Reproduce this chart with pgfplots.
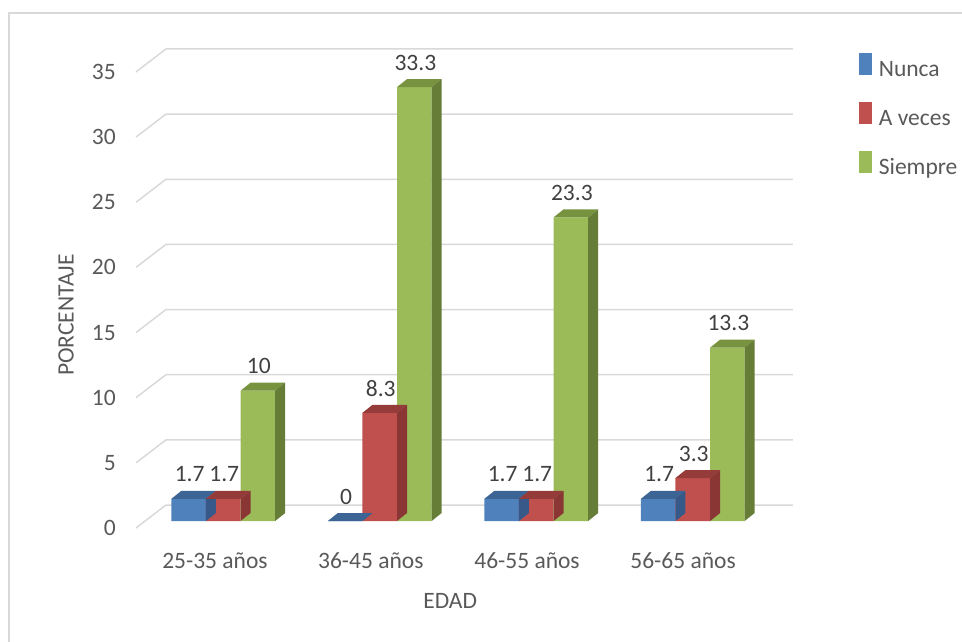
\documentclass[border=0pt]{standalone}
\usepackage{pgfplots}
\pgfplotsset{compat=1.18}
\usepackage{pgfplotstable}
\usepackage{fontspec}
\setmainfont{Carlito}

% series colours: front, top and side faces
\definecolor{nuncaF}{HTML}{4F81BD}
\definecolor{nuncaT}{HTML}{3C6595}
\definecolor{nuncaS}{HTML}{36598A}
\definecolor{vecesF}{HTML}{C0504D}
\definecolor{vecesT}{HTML}{953B39}
\definecolor{vecesS}{HTML}{8A3634}
\definecolor{siempreF}{HTML}{9BBB59}
\definecolor{siempreT}{HTML}{77933F}
\definecolor{siempreS}{HTML}{657D36}
\definecolor{gridcol}{HTML}{D9D9D9}
\definecolor{axgray}{HTML}{595959}
\definecolor{labgray}{HTML}{404040}

\newcommand\chartfont{\fontsize{23.5}{28}\selectfont}

% top and side faces of a column, drawn at the top centre of its front face
% (\barv holds the column value; one value unit is 13.03pt)
\newcommand\declarecube[3]{%
  \pgfdeclareplotmark{#1}{%
    \pgfmathfloatparsenumber{\barv}%
    \pgfmathfloattofixed{\pgfmathresult}%
    \pgfmathsetlengthmacro\barh{\pgfmathresult*13.03pt}%
    \pgfpathmoveto{\pgfpoint{-17.3pt}{0pt}}%
    \pgfpathlineto{\pgfpoint{17.3pt}{0pt}}%
    \pgfpathlineto{\pgfpoint{27.3pt}{8pt}}%
    \pgfpathlineto{\pgfpoint{-7.3pt}{8pt}}%
    \pgfpathclose
    \pgfsetfillcolor{#2}\pgfusepath{fill}%
    \pgfpathmoveto{\pgfpoint{17.3pt}{0pt}}%
    \pgfpathlineto{\pgfpoint{27.3pt}{8pt}}%
    \pgfpathlineto{\pgfpoint{27.3pt}{8pt-\barh}}%
    \pgfpathlineto{\pgfpoint{17.3pt}{-\barh}}%
    \pgfpathclose
    \pgfsetfillcolor{#3}\pgfusepath{fill}%
  }}
\declarecube{cubeN}{nuncaT}{nuncaS}
\declarecube{cubeA}{vecesT}{vecesS}
\declarecube{cubeS}{siempreT}{siempreS}

% legend key: a square inside a box as tall as the entry text
\newcommand\legendsquare[1]{%
  \path (0pt,-5pt) rectangle (13.3pt,17pt);
  \fill[#1] (0pt,1.2pt) rectangle (13.3pt,14.5pt);}

% x = column position (age group index + offset within the group), v = percentage
\pgfplotstableread{
x v lab
0.279 1.7 1.7
1.279 0 0
2.279 1.7 1.7
3.279 1.7 1.7
}\nunca
\pgfplotstableread{
x v lab
0.5 1.7 1.7
1.5 8.3 8.3
2.5 1.7 1.7
3.5 3.3 3.3
}\aveces
\pgfplotstableread{
x v lab
0.721 10 10
1.721 33.3 33.3
2.721 23.3 23.3
3.721 13.3 13.3
}\siempre

\begin{document}
\begin{tikzpicture}
\useasboundingbox (0pt,0pt) rectangle (962pt,-642pt);
% chart frame
\draw[color=gridcol, line width=1.3pt] (9pt,-700pt) -- (9pt,-13pt) -- (1000pt,-13pt);

\begin{axis}[
  at={(136pt,-528pt)}, anchor=south west,
  x=156.5pt, y=13.03pt,
  xmin=-0.0575, xmax=4.2, ymin=-0.537, ymax=36.6,
  clip=false,
  axis line style={draw=none},
  major tick length=0pt,
  ytick={-0.537,4.463,9.463,14.463,19.463,24.463,29.463,34.463},
  yticklabels={0,5,10,15,20,25,30,35},
  xtick={0.447,1.443,2.441,3.438},
  xticklabels={25-35 años,36-45 años,46-55 años,56-65 años},
  ticklabel style={font=\chartfont, text=axgray},
  yticklabel style={inner sep=0pt, anchor=east, xshift=-20pt},
  xticklabel style={inner sep=0pt, anchor=base, yshift=-40pt},
  xlabel={EDAD}, ylabel={PORCENTAJE},
  xlabel style={at={(axis cs:1.95,-6.14)}, anchor=center, inner sep=0pt, font=\chartfont, text=axgray},
  ylabel style={at={(axis cs:-0.505,15.81)}, anchor=center, inner sep=0pt, font=\chartfont, text=axgray},
  legend style={at={(axis cs:4.562,35.91)}, anchor=north west, draw=none, fill=none,
    inner sep=0pt, outer sep=0pt, row sep=21pt,
    nodes={inner sep=0pt, text height=17pt, text depth=5pt, font=\chartfont, text=axgray},
    /tikz/every odd column/.append style={column sep=6.6pt}},
  legend cell align=left,
  nodes near coords style={font=\chartfont, text=labgray, anchor=center, yshift=24.5pt, xshift=1pt, inner sep=0pt},
]

% gridlines: front diagonal and back wall
\addplot[gridcol, line width=1.5pt, forget plot, unbounded coords=jump] coordinates {
  (-0.0575,-0.537) (0.134,1.228) (4.14,1.228) (nan,nan)
  (-0.0575,4.463) (0.134,6.228) (4.14,6.228) (nan,nan)
  (-0.0575,9.463) (0.134,11.228) (4.14,11.228) (nan,nan)
  (-0.0575,14.463) (0.134,16.228) (4.14,16.228) (nan,nan)
  (-0.0575,19.463) (0.134,21.228) (4.14,21.228) (nan,nan)
  (-0.0575,24.463) (0.134,26.228) (4.14,26.228) (nan,nan)
  (-0.0575,29.463) (0.134,31.228) (4.14,31.228) (nan,nan)
  (-0.0575,34.463) (0.134,36.228) (4.14,36.228)
};

\addplot[ybar, bar width=0.221, bar shift=0pt, fill=nuncaF, draw=none,
  mark=cubeN, visualization depends on=rawy \as \barv,
  point meta=explicit symbolic, nodes near coords,
  legend image code/.code={\legendsquare{nuncaF}}]
  table[x=x, y=v, meta=lab] {\nunca};
\addlegendentry{Nunca}

\addplot[ybar, bar width=0.221, bar shift=0pt, fill=vecesF, draw=none,
  mark=cubeA, visualization depends on=rawy \as \barv,
  point meta=explicit symbolic, nodes near coords,
  legend image code/.code={\legendsquare{vecesF}}]
  table[x=x, y=v, meta=lab] {\aveces};
\addlegendentry{A veces}

\addplot[ybar, bar width=0.221, bar shift=0pt, fill=siempreF, draw=none,
  mark=cubeS, visualization depends on=rawy \as \barv,
  point meta=explicit symbolic, nodes near coords,
  legend image code/.code={\legendsquare{siempreF}}]
  table[x=x, y=v, meta=lab] {\siempre};
\addlegendentry{Siempre}

\end{axis}
\end{tikzpicture}
\end{document}
